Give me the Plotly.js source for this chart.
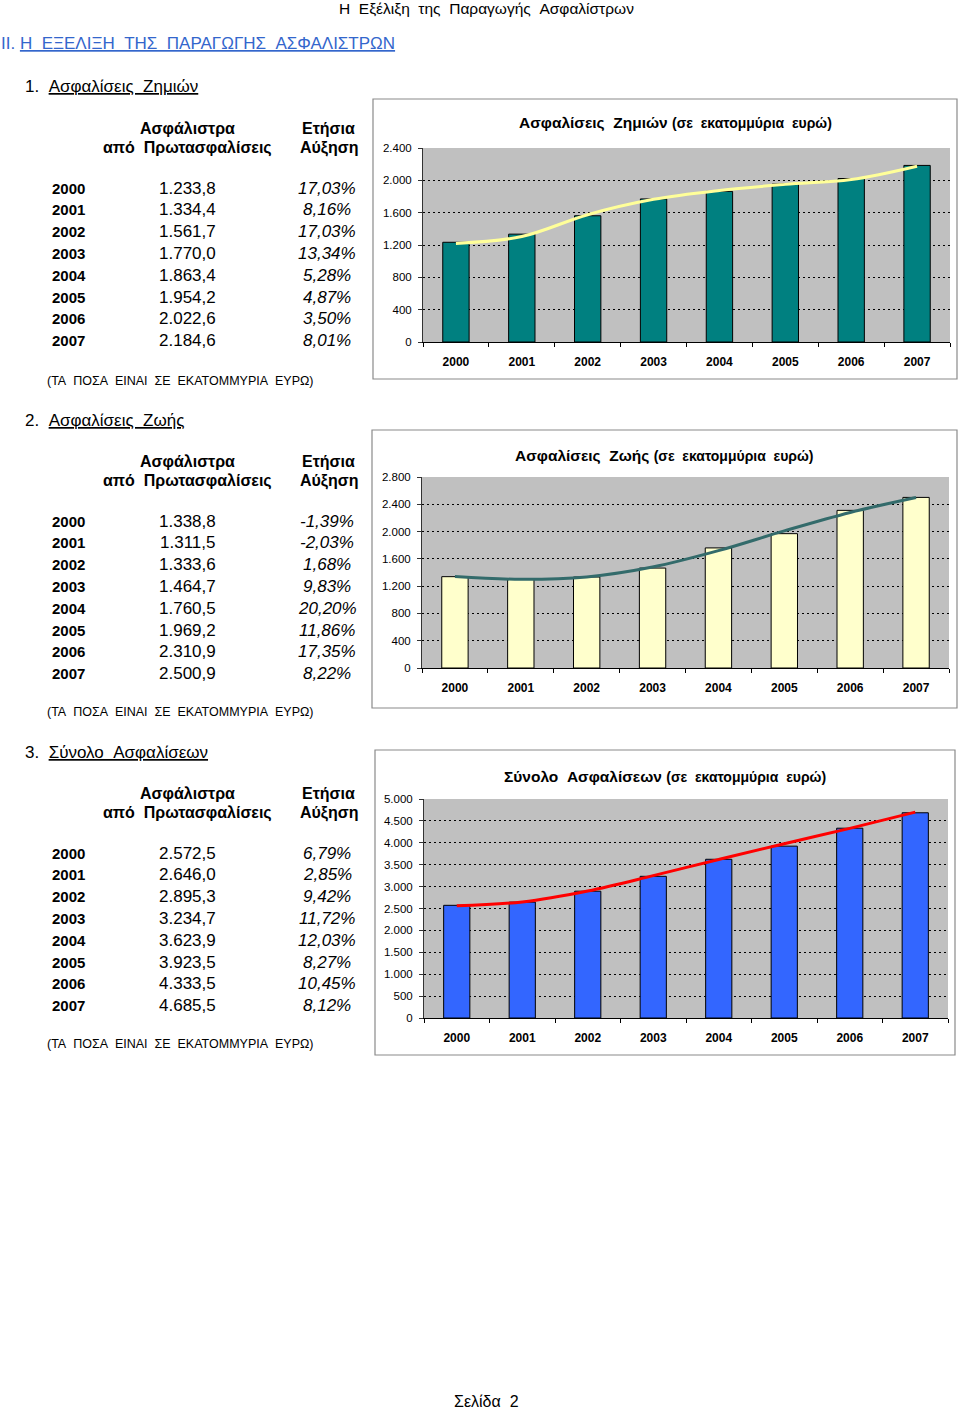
<!DOCTYPE html>
<html>
<head>
<meta charset="utf-8">
<script src="https://cdn.plot.ly/plotly-3.0.1.min.js"></script>
<style>
html,body{margin:0;padding:0;background:#fff;}
#chart{width:960px;height:1409px;}
</style>
</head>
<body>
<div id="chart"></div>
<script>
// ---------- data ----------
const years = ['2000','2001','2002','2003','2004','2005','2006','2007'];

const damageValues = [1233.8, 1334.4, 1561.7, 1770.0, 1863.4, 1954.2, 2022.6, 2184.6];
const damageText = ['1.233,8','1.334,4','1.561,7','1.770,0','1.863,4','1.954,2','2.022,6','2.184,6'];
const damageGrowth = ['17,03%','8,16%','17,03%','13,34%','5,28%','4,87%','3,50%','8,01%'];
const damageTrend = [1220, 1305, 1575, 1765, 1875, 1950, 2010, 2175];

const lifeValues = [1338.8, 1311.5, 1333.6, 1464.7, 1760.5, 1969.2, 2310.9, 2500.9];
const lifeText = ['1.338,8','1.311,5','1.333,6','1.464,7','1.760,5','1.969,2','2.310,9','2.500,9'];
const lifeGrowth = ['-1,39%','-2,03%','1,68%','9,83%','20,20%','11,86%','17,35%','8,22%'];
const lifeTrend = [1340, 1300, 1335, 1480, 1720, 2010, 2280, 2500];

const totalValues = [2572.5, 2646.0, 2895.3, 3234.7, 3623.9, 3923.5, 4333.5, 4685.5];
const totalText = ['2.572,5','2.646,0','2.895,3','3.234,7','3.623,9','3.923,5','4.333,5','4.685,5'];
const totalGrowth = ['6,79%','2,85%','9,42%','11,72%','12,03%','8,27%','10,45%','8,12%'];
const totalTrend = [2560, 2650, 2900, 3250, 3620, 3980, 4330, 4700];

// ---------- helpers ----------
const W = 960, H = 1409;
const FONT = 'Liberation Sans, Arial, sans-serif';
const px = x => x / W;
const py = y => 1 - y / H;
const NB = '\u00a0';
const sp = s => s.split(' ').join(NB + NB);

const annotations = [];
function txt(text, x, y, opts) {
  opts = opts || {};
  annotations.push({
    text: text, x: px(x), y: py(y), xref: 'paper', yref: 'paper',
    xanchor: opts.anchor || 'left', yanchor: 'middle', showarrow: false,
    font: {family: FONT, size: opts.size || 16, color: opts.color || '#000',
           weight: opts.weight || 'normal', style: opts.style || 'normal'}
  });
}

// page header
txt(sp('Η Εξέλιξη της Παραγωγής Ασφαλίστρων'), 337, 8, {size: 15.5});
txt('ΙΙ.' + NB + '<u>' + sp('Η ΕΞΕΛΙΞΗ ΤΗΣ ΠΑΡΑΓΩΓΗΣ ΑΣΦΑΛΙΣΤΡΩΝ') + '</u>', -1, 43, {size: 17, color: '#3366CC'});

function section(title, titleY, vals, growth, noteY) {
  txt(title, 23, titleY, {size: 17});
  const hy = titleY + 41;
  txt('Ασφάλιστρα', 187, hy, {anchor: 'center', size: 16, weight: 'bold'});
  txt('από' + NB + NB + 'Πρωτασφαλίσεις', 187, hy + 20, {anchor: 'center', size: 16, weight: 'bold'});
  txt('Ετήσια', 328, hy, {anchor: 'center', size: 16, weight: 'bold'});
  txt('Αύξηση', 329, hy + 20, {anchor: 'center', size: 16, weight: 'bold'});
  const r0 = titleY + 101;
  for (let i = 0; i < years.length; i++) {
    const y = r0 + i * 21.8;
    txt(years[i], 50, y, {size: 15, weight: 'bold'});
    txt(vals[i], 187, y, {anchor: 'center', size: 17});
    txt(growth[i], 327, y, {anchor: 'center', size: 17, style: 'italic'});
  }
  txt(sp('(ΤΑ ΠΟΣΑ ΕΙΝΑΙ ΣΕ ΕΚΑΤΟΜΜΥΡΙΑ ΕΥΡΩ)'), 45, noteY, {size: 12.5});
}
section('1.' + NB + NB + '<u>' + sp('Ασφαλίσεις Ζημιών') + '</u>', 87, damageText, damageGrowth, 381);
section('2.' + NB + NB + '<u>' + sp('Ασφαλίσεις Ζωής') + '</u>', 420, lifeText, lifeGrowth, 712);
section('3.' + NB + NB + '<u>' + sp('Σύνολο Ασφαλίσεων') + '</u>', 752, totalText, totalGrowth, 1044);

txt(sp('Σελίδα 2'), 486, 1401, {anchor: 'center', size: 16});

// chart titles
function ctitle(main, x, y) {
  annotations.push({
    text: '<b>' + sp(main) + '</b>' + NB + '<span style="font-size:14px"><b>' + sp('(σε εκατομμύρια ευρώ)') + '</b></span>',
    x: px(x), y: py(y), xref: 'paper', yref: 'paper', xanchor: 'center', yanchor: 'middle',
    showarrow: false, font: {family: FONT, size: 15.5, color: '#000'}
  });
}
ctitle('Ασφαλίσεις Ζημιών', 675, 122);
ctitle('Ασφαλίσεις Ζωής', 664, 455);
ctitle('Σύνολο Ασφαλίσεων', 665, 776);

// frames
const frame = (x0, y0, x1, y1) => ({type: 'rect', xref: 'paper', yref: 'paper',
  x0: px(x0), x1: px(x1), y0: py(y1), y1: py(y0), line: {color: '#8a8a8a', width: 1.2}, layer: 'below'});
const shapes = [frame(373, 99, 957, 379), frame(372, 430, 957, 708), frame(375, 750, 955, 1055)];

// ---------- traces ----------
function bars(vals, color, xa, ya) {
  return {type: 'bar', x: years, y: vals, xaxis: xa, yaxis: ya, width: 0.4,
    marker: {color: color, line: {color: '#000', width: 1}}, hoverinfo: 'skip', showlegend: false};
}
function trend(vals, color, xa, ya) {
  return {type: 'scatter', mode: 'lines', x: years, y: vals, xaxis: xa, yaxis: ya,
    line: {color: color, width: 3, shape: 'spline', smoothing: 1}, hoverinfo: 'skip', showlegend: false};
}
const data = [
  bars(damageValues, '#008080', 'x', 'y'), trend(damageTrend, '#FFFF99', 'x', 'y'),
  bars(lifeValues, '#FFFFCC', 'x2', 'y2'), trend(lifeTrend, '#336B6B', 'x2', 'y2'),
  bars(totalValues, '#3366FF', 'x3', 'y3'), trend(totalTrend, '#FF0000', 'x3', 'y3')
];

function xaxis(x0, x1, anchor) {
  return {domain: [px(x0), px(x1)], anchor: anchor, type: 'category', showgrid: false,
    showline: true, linecolor: '#000', linewidth: 1, ticks: 'outside', tickson: 'boundaries',
    ticklen: 4, tickcolor: '#000', ticklabelstandoff: 9,
    tickfont: {family: FONT, size: 12, weight: 'bold', color: '#000'}, fixedrange: true};
}
function yaxis(y0, y1, anchor, max, dtick) {
  return {domain: [py(y1), py(y0)], anchor: anchor, range: [0, max], dtick: dtick, tick0: 0,
    tickformat: ',d', showgrid: true, gridcolor: '#000', griddash: '2px,3px', gridwidth: 1,
    zeroline: false, showline: true, linecolor: '#333', linewidth: 1, ticks: 'outside',
    ticklen: 4, tickcolor: '#333', ticklabelstandoff: 4,
    tickfont: {family: FONT, size: 11.5, color: '#000'}, fixedrange: true};
}

const layout = {
  width: W, height: H, margin: {l: 0, r: 0, t: 0, b: 0},
  paper_bgcolor: '#fff', plot_bgcolor: '#C0C0C0', separators: ',.',
  bargap: 0.6, showlegend: false,
  xaxis: xaxis(423, 950, 'y'), yaxis: yaxis(148, 342, 'x', 2400, 400),
  xaxis2: xaxis(422, 949, 'y2'), yaxis2: yaxis(477, 668, 'x2', 2800, 400),
  xaxis3: xaxis(424, 948, 'y3'), yaxis3: yaxis(799, 1018, 'x3', 5000, 500),
  annotations: annotations, shapes: shapes
};

Plotly.newPlot('chart', data, layout, {displayModeBar: false, staticPlot: true});
</script>
</body>
</html>
